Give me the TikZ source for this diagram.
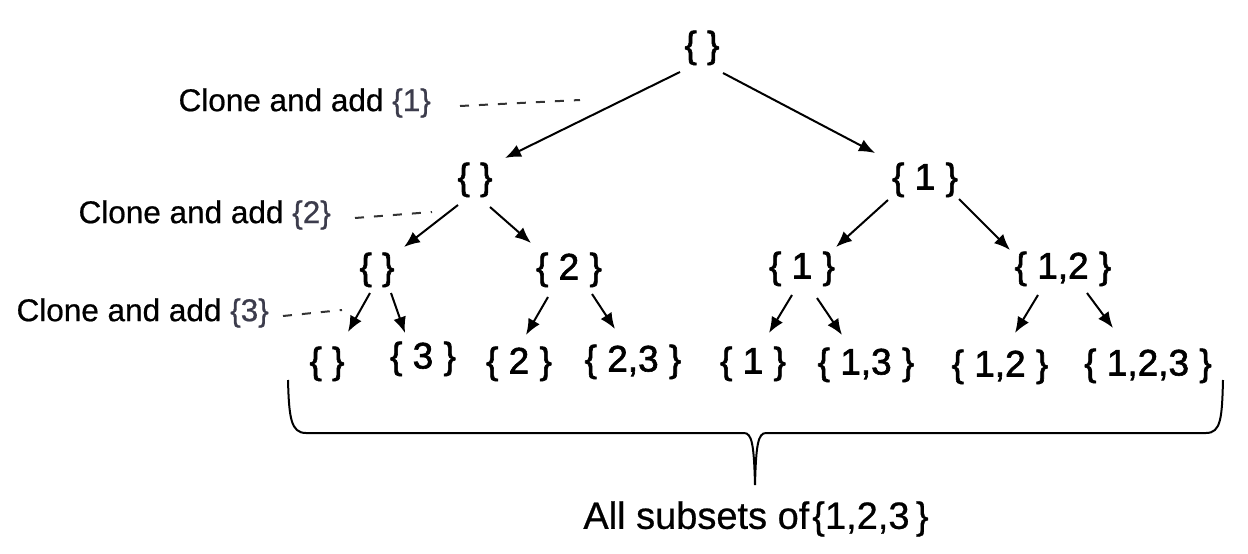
\documentclass[tikz,border=0pt]{standalone}
\usepackage{fontspec}
\setmainfont{Liberation Sans}
\newfontfamily\heavyfont[FakeBold=1.6]{Liberation Sans}
\newfontfamily\lblfont[FakeBold=0.6]{Liberation Sans}
\usetikzlibrary{arrows.meta}
\definecolor{lblgray}{HTML}{3C3C4C}
\definecolor{dashgray}{HTML}{333333}
\tikzset{
  setnode/.style={font=\heavyfont\fontsize{37}{40}\selectfont, inner sep=3pt, text height=27pt, text depth=8pt},
  lbl/.style={font=\lblfont\fontsize{31.5}{34}\selectfont, inner sep=0pt, anchor=east},
  arr/.style={line width=2pt, -{Latex[length=16pt,width=13pt]}},
  dsh/.style={line width=2pt, dashgray, dash pattern=on 9pt off 10pt},
  bracel/.style={line width=2pt}
}
\newcommand{\gb}[1]{{\color{lblgray}\{#1\}}}
\begin{document}
\begin{tikzpicture}[x=1pt,y=-1pt]
\useasboundingbox (0,0) rectangle (1248,554);
% tree nodes
\node[setnode] (root) at (702,48) {\{ \}};
\node[setnode] (a) at (475,180) {\{ \}};
\node[setnode] (b) at (925,180) {\{ 1 \}};
\node[setnode] (aa) at (377,270) {\{ \}};
\node[setnode] (ab) at (569,270) {\{ 2 \}};
\node[setnode] (ba) at (802,269) {\{ 1 \}};
\node[setnode] (bb) at (1063,269) {\{ 1,2 \}};
\node[setnode] (aaa) at (327,364) {\{ \}};
\node[setnode] (aab) at (423,359) {\{ 3 \}};
\node[setnode] (aba) at (519,364) {\{ 2 \}};
\node[setnode] (abb) at (633,362) {\{ 2,3 \}};
\node[setnode] (baa) at (753,364) {\{ 1 \}};
\node[setnode] (bab) at (866,365) {\{ 1,3 \}};
\node[setnode] (bba) at (1000,367) {\{ 1,2 \}};
\node[setnode] (bbb) at (1148,366) {\{ 1,2,3 \}};
% arrows
\draw[arr] ([shift={(-22,24)}]root.center) -- ([shift={(30,-22)}]a.center);
\draw[arr] ([shift={(21,25)}]root.center) -- ([shift={(-50,-27)}]b.center);
\draw[arr] ([shift={(-17,25)}]a.center) -- ([shift={(27,-23)}]aa.center);
\draw[arr] ([shift={(15,27)}]a.center) -- ([shift={(-38,-27)}]ab.center);
\draw[arr] ([shift={(-37,20)}]b.center) -- ([shift={(34,-22)}]ba.center);
\draw[arr] ([shift={(34,19)}]b.center) -- ([shift={(-53,-19)}]bb.center);
\draw[arr] ([shift={(-7,23)}]aa.center) -- ([shift={(21,-32)}]aaa.center);
\draw[arr] ([shift={(14,23)}]aa.center) -- ([shift={(-18,-26)}]aab.center);
\draw[arr] ([shift={(-21,27)}]ab.center) -- ([shift={(7,-29)}]aba.center);
\draw[arr] ([shift={(23,24)}]ab.center) -- ([shift={(-18,-33)}]abb.center);
\draw[arr] ([shift={(-10,26)}]ba.center) -- ([shift={(16,-31)}]baa.center);
\draw[arr] ([shift={(15,29)}]ba.center) -- ([shift={(-24,-30)}]bab.center);
\draw[arr] ([shift={(-25,26)}]bb.center) -- ([shift={(15,-34)}]bba.center);
\draw[arr] ([shift={(24,24)}]bb.center) -- ([shift={(-35,-38)}]bbb.center);
% labels
\node[lbl] (l1) at (431,103) {Clone and add \gb{1}};
\node[lbl] (l2) at (331,215) {Clone and add \gb{2}};
\node[lbl] (l3) at (269,313) {Clone and add \gb{3}};
\coordinate (e1) at (580,100);
\coordinate (e2) at (432,212);
\coordinate (e3) at (342,310);
\draw[dsh] ([xshift=29pt,yshift=-3pt]l1.east) -- (e1);
\draw[dsh] ([xshift=24pt,yshift=-3pt]l2.east) -- (e2);
\draw[dsh] ([xshift=14pt,yshift=-3pt]l3.east) -- (e3);
% brace
\draw[bracel] (288,380) .. controls (289,418) and (291,433) .. (306,433)
  -- (744,433) .. controls (752,433) and (754,445) .. (755,485)
  .. controls (756,445) and (758,433) .. (766,433)
  -- (1206,433) .. controls (1221,433) and (1222,418) .. (1223,380);
\node[font=\lblfont\fontsize{38}{40}\selectfont, inner sep=0pt] (all) at (756,519) {All subsets of\kern3pt\{1,2,3\,\}};
\end{tikzpicture}
\end{document}
